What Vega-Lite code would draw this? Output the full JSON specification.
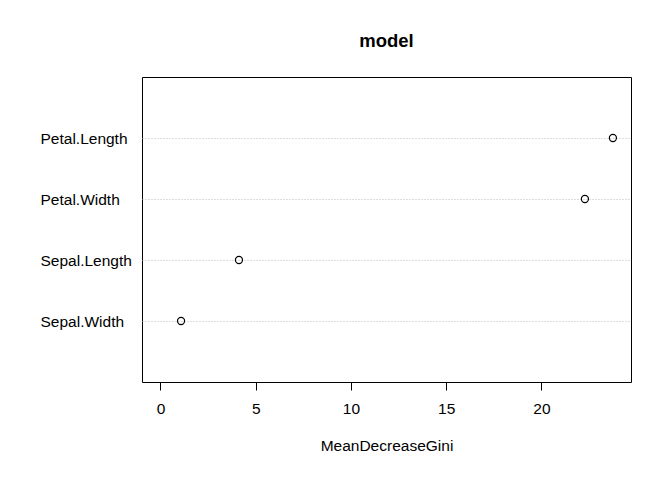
{
  "$schema": "https://vega.github.io/schema/vega-lite/v6.json",
  "width": 489,
  "height": 305,
  "autosize": {"type": "none"},
  "padding": {"left": 142, "top": 77, "right": 41, "bottom": 98},
  "background": "white",
  "title": {"text": "model", "font": "Liberation Sans", "fontSize": 18.5, "fontWeight": "bold", "color": "black", "anchor": "middle", "offset": 27},
  "data": {"values": [
    {"var": "Petal.Length", "MeanDecreaseGini": 23.75},
    {"var": "Petal.Width", "MeanDecreaseGini": 22.28},
    {"var": "Sepal.Length", "MeanDecreaseGini": 4.12},
    {"var": "Sepal.Width", "MeanDecreaseGini": 1.08}
  ]},
  "mark": {"type": "point", "shape": "circle", "filled": false, "stroke": "black", "strokeWidth": 1.2, "size": 50, "opacity": 1},
  "encoding": {
    "x": {
      "field": "MeanDecreaseGini", "type": "quantitative",
      "scale": {"domain": [-0.97, 24.7], "nice": false, "zero": false},
      "axis": {"values": [0, 5, 10, 15, 20], "grid": false, "domain": false, "tickColor": "black", "tickSize": 8, "labelFont": "Liberation Sans", "labelFontSize": 15.5, "labelColor": "black", "labelPadding": 11, "title": "MeanDecreaseGini", "titleFont": "Liberation Sans", "titleFontSize": 15.5, "titleFontWeight": "normal", "titleColor": "black", "titlePadding": 22}
    },
    "y": {
      "field": "var", "type": "ordinal",
      "sort": ["Petal.Length", "Petal.Width", "Sepal.Length", "Sepal.Width"],
      "scale": {"type": "point", "padding": 1},
      "axis": {"title": null, "domain": false, "ticks": false, "labelAlign": "left", "labelBaseline": "middle", "labelOffset": 0.5, "labelPadding": 102, "labelFont": "Liberation Sans", "labelFontSize": 15.5, "labelColor": "black", "grid": true, "gridColor": "#bdbdbd", "gridDash": [1, 2], "gridWidth": 1}
    }
  },
  "config": {"view": {"stroke": "black", "strokeWidth": 1}}
}
